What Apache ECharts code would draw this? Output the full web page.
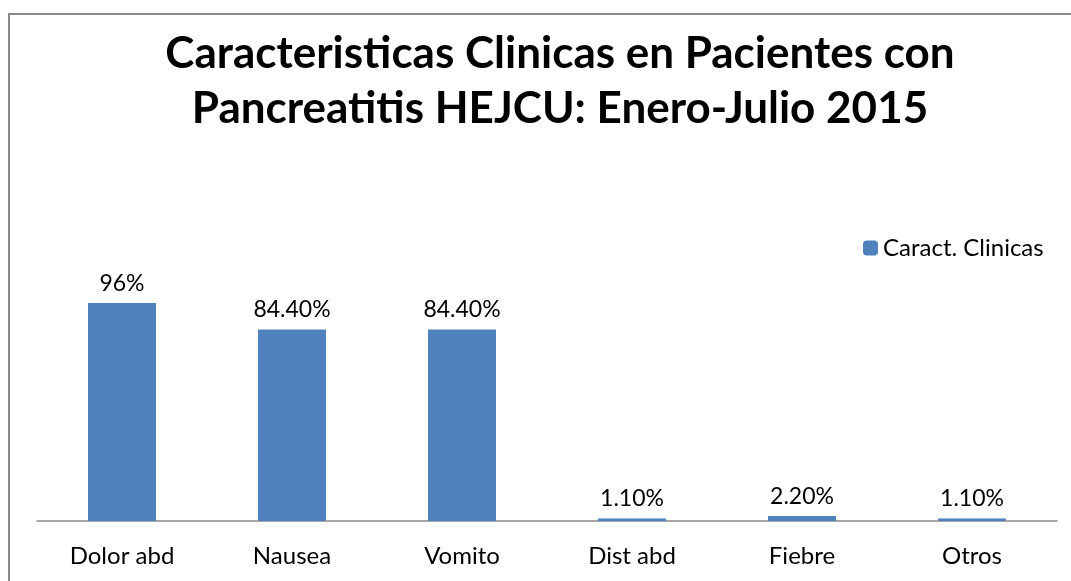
<!DOCTYPE html>
<html>
<head>
<meta charset="utf-8">
<script src="https://cdn.jsdelivr.net/npm/echarts@6/dist/echarts.min.js"></script>
<style>
  html, body { margin: 0; padding: 0; background: #fff; overflow: hidden; }
  #chart { width: 1071px; height: 581px; position: absolute; left: 0; top: 0; }
  #frame { position: absolute; left: 8px; top: 13px; width: 1100px; height: 600px;
           border: 2px solid #8a8a8a; pointer-events: none; }
</style>
</head>
<body>
<div id="chart"></div>
<div id="frame"></div>
<script>
// datos del grafico
var categorias = ['Dolor abd', 'Nausea', 'Vomito', 'Dist abd', 'Fiebre', 'Otros'];
var valores = [0.96, 0.844, 0.844, 0.011, 0.022, 0.011];
var etiquetas = ['96%', '84.40%', '84.40%', '1.10%', '2.20%', '1.10%'];
var serieNombre = 'Caract. Clinicas';

var fuente = 'Lato, "Open Sans", sans-serif';

var chart = echarts.init(document.getElementById('chart'));

var option = {
  animation: false,
  title: {
    text: 'Caracteristicas Clinicas en Pacientes con\nPancreatitis HEJCU: Enero-Julio 2015',
    left: 555,
    textAlign: 'center',
    top: 21,
    textStyle: {
      fontFamily: fuente,
      fontWeight: 'bold',
      fontSize: 44,
      lineHeight: 55,
      color: '#000'
    }
  },
  legend: {
    data: [serieNombre],
    left: 858,
    top: 231,
    itemWidth: 15,
    itemHeight: 15,
    itemGap: 6,
    textStyle: { fontFamily: fuente, fontSize: 24, color: '#000' }
  },
  grid: { left: 37, right: 14, top: 294, bottom: 60 },
  xAxis: {
    type: 'category',
    data: categorias,
    axisLine: { lineStyle: { color: '#8a8a8a', width: 1.5 } },
    axisTick: { show: false },
    axisLabel: { fontFamily: fuente, fontSize: 24, color: '#000', margin: 23 }
  },
  yAxis: {
    type: 'value',
    min: 0,
    max: 1,
    show: false,
    splitLine: { show: false }
  },
  series: [
    {
      name: serieNombre,
      type: 'bar',
      data: valores,
      barWidth: '40%',
      itemStyle: { color: '#4F81BD' },
      label: {
        show: true,
        position: 'top',
        distance: 8,
        fontFamily: fuente,
        fontSize: 23,
        color: '#000',
        formatter: function (p) { return etiquetas[p.dataIndex]; }
      }
    }
  ]
};

chart.setOption(option);
</script>
</body>
</html>
